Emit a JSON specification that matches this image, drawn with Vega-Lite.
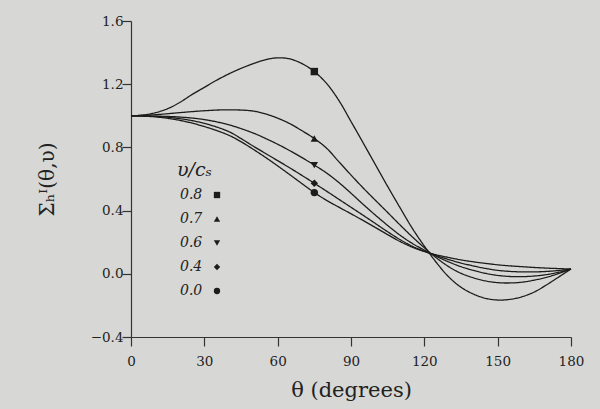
{
  "$schema": "https://vega.github.io/schema/vega-lite/v6.json",
  "width": 440,
  "height": 316,
  "autosize": {"type": "none"},
  "padding": {"left": 131, "top": 21, "right": 29, "bottom": 72},
  "background": "#d7d7d5",
  "config": {"view": {"stroke": null}, "font": "DejaVu Serif"},
  "datasets": {
    "curves": [
      {"v":"0.8","theta":0,"sigma":1.0},{"v":"0.8","theta":5,"sigma":1.005},{"v":"0.8","theta":10,"sigma":1.02},{"v":"0.8","theta":15,"sigma":1.045},{"v":"0.8","theta":20,"sigma":1.085},{"v":"0.8","theta":25,"sigma":1.135},{"v":"0.8","theta":30,"sigma":1.18},{"v":"0.8","theta":35,"sigma":1.225},{"v":"0.8","theta":40,"sigma":1.265},{"v":"0.8","theta":45,"sigma":1.3},{"v":"0.8","theta":50,"sigma":1.33},{"v":"0.8","theta":55,"sigma":1.355},{"v":"0.8","theta":60,"sigma":1.367},{"v":"0.8","theta":65,"sigma":1.36},{"v":"0.8","theta":70,"sigma":1.33},{"v":"0.8","theta":75,"sigma":1.28},{"v":"0.8","theta":80,"sigma":1.205},{"v":"0.8","theta":85,"sigma":1.098},{"v":"0.8","theta":90,"sigma":0.964},{"v":"0.8","theta":95,"sigma":0.828},{"v":"0.8","theta":100,"sigma":0.69},{"v":"0.8","theta":105,"sigma":0.553},{"v":"0.8","theta":110,"sigma":0.42},{"v":"0.8","theta":115,"sigma":0.29},{"v":"0.8","theta":120,"sigma":0.175},{"v":"0.8","theta":125,"sigma":0.07},{"v":"0.8","theta":130,"sigma":-0.02},{"v":"0.8","theta":135,"sigma":-0.085},{"v":"0.8","theta":140,"sigma":-0.128},{"v":"0.8","theta":145,"sigma":-0.155},{"v":"0.8","theta":150,"sigma":-0.166},{"v":"0.8","theta":155,"sigma":-0.162},{"v":"0.8","theta":160,"sigma":-0.145},{"v":"0.8","theta":165,"sigma":-0.115},{"v":"0.8","theta":170,"sigma":-0.07},{"v":"0.8","theta":175,"sigma":-0.02},{"v":"0.8","theta":180,"sigma":0.03},
      {"v":"0.7","theta":0,"sigma":1.0},{"v":"0.7","theta":10,"sigma":1.007},{"v":"0.7","theta":20,"sigma":1.02},{"v":"0.7","theta":30,"sigma":1.032},{"v":"0.7","theta":40,"sigma":1.038},{"v":"0.7","theta":50,"sigma":1.03},{"v":"0.7","theta":55,"sigma":1.012},{"v":"0.7","theta":60,"sigma":0.985},{"v":"0.7","theta":65,"sigma":0.95},{"v":"0.7","theta":70,"sigma":0.905},{"v":"0.7","theta":75,"sigma":0.856},{"v":"0.7","theta":80,"sigma":0.795},{"v":"0.7","theta":85,"sigma":0.71},{"v":"0.7","theta":90,"sigma":0.625},{"v":"0.7","theta":95,"sigma":0.543},{"v":"0.7","theta":100,"sigma":0.465},{"v":"0.7","theta":105,"sigma":0.388},{"v":"0.7","theta":110,"sigma":0.31},{"v":"0.7","theta":115,"sigma":0.235},{"v":"0.7","theta":120,"sigma":0.165},{"v":"0.7","theta":125,"sigma":0.1},{"v":"0.7","theta":130,"sigma":0.045},{"v":"0.7","theta":135,"sigma":0.003},{"v":"0.7","theta":140,"sigma":-0.025},{"v":"0.7","theta":145,"sigma":-0.045},{"v":"0.7","theta":150,"sigma":-0.056},{"v":"0.7","theta":155,"sigma":-0.058},{"v":"0.7","theta":160,"sigma":-0.053},{"v":"0.7","theta":165,"sigma":-0.04},{"v":"0.7","theta":170,"sigma":-0.022},{"v":"0.7","theta":175,"sigma":0.002},{"v":"0.7","theta":180,"sigma":0.03},
      {"v":"0.6","theta":0,"sigma":1.0},{"v":"0.6","theta":10,"sigma":0.998},{"v":"0.6","theta":20,"sigma":0.992},{"v":"0.6","theta":30,"sigma":0.976},{"v":"0.6","theta":40,"sigma":0.943},{"v":"0.6","theta":50,"sigma":0.891},{"v":"0.6","theta":55,"sigma":0.857},{"v":"0.6","theta":60,"sigma":0.82},{"v":"0.6","theta":65,"sigma":0.779},{"v":"0.6","theta":70,"sigma":0.735},{"v":"0.6","theta":75,"sigma":0.688},{"v":"0.6","theta":80,"sigma":0.638},{"v":"0.6","theta":85,"sigma":0.578},{"v":"0.6","theta":90,"sigma":0.51},{"v":"0.6","theta":95,"sigma":0.439},{"v":"0.6","theta":100,"sigma":0.371},{"v":"0.6","theta":105,"sigma":0.306},{"v":"0.6","theta":110,"sigma":0.245},{"v":"0.6","theta":115,"sigma":0.193},{"v":"0.6","theta":120,"sigma":0.15},{"v":"0.6","theta":125,"sigma":0.11},{"v":"0.6","theta":130,"sigma":0.075},{"v":"0.6","theta":135,"sigma":0.045},{"v":"0.6","theta":140,"sigma":0.022},{"v":"0.6","theta":145,"sigma":0.003},{"v":"0.6","theta":150,"sigma":-0.01},{"v":"0.6","theta":155,"sigma":-0.017},{"v":"0.6","theta":160,"sigma":-0.018},{"v":"0.6","theta":165,"sigma":-0.014},{"v":"0.6","theta":170,"sigma":-0.005},{"v":"0.6","theta":175,"sigma":0.01},{"v":"0.6","theta":180,"sigma":0.03},
      {"v":"0.4","theta":0,"sigma":1.0},{"v":"0.4","theta":10,"sigma":0.996},{"v":"0.4","theta":20,"sigma":0.982},{"v":"0.4","theta":30,"sigma":0.952},{"v":"0.4","theta":40,"sigma":0.9},{"v":"0.4","theta":45,"sigma":0.856},{"v":"0.4","theta":50,"sigma":0.808},{"v":"0.4","theta":55,"sigma":0.762},{"v":"0.4","theta":60,"sigma":0.716},{"v":"0.4","theta":65,"sigma":0.67},{"v":"0.4","theta":70,"sigma":0.622},{"v":"0.4","theta":75,"sigma":0.573},{"v":"0.4","theta":80,"sigma":0.523},{"v":"0.4","theta":85,"sigma":0.472},{"v":"0.4","theta":90,"sigma":0.421},{"v":"0.4","theta":95,"sigma":0.37},{"v":"0.4","theta":100,"sigma":0.318},{"v":"0.4","theta":105,"sigma":0.266},{"v":"0.4","theta":110,"sigma":0.217},{"v":"0.4","theta":115,"sigma":0.175},{"v":"0.4","theta":120,"sigma":0.143},{"v":"0.4","theta":125,"sigma":0.115},{"v":"0.4","theta":130,"sigma":0.09},{"v":"0.4","theta":135,"sigma":0.068},{"v":"0.4","theta":140,"sigma":0.05},{"v":"0.4","theta":145,"sigma":0.034},{"v":"0.4","theta":150,"sigma":0.022},{"v":"0.4","theta":155,"sigma":0.015},{"v":"0.4","theta":160,"sigma":0.012},{"v":"0.4","theta":165,"sigma":0.012},{"v":"0.4","theta":170,"sigma":0.015},{"v":"0.4","theta":175,"sigma":0.021},{"v":"0.4","theta":180,"sigma":0.03},
      {"v":"0.0","theta":0,"sigma":1.0},{"v":"0.0","theta":10,"sigma":0.993},{"v":"0.0","theta":20,"sigma":0.971},{"v":"0.0","theta":30,"sigma":0.932},{"v":"0.0","theta":40,"sigma":0.877},{"v":"0.0","theta":45,"sigma":0.836},{"v":"0.0","theta":50,"sigma":0.788},{"v":"0.0","theta":55,"sigma":0.737},{"v":"0.0","theta":60,"sigma":0.683},{"v":"0.0","theta":65,"sigma":0.627},{"v":"0.0","theta":70,"sigma":0.57},{"v":"0.0","theta":75,"sigma":0.514},{"v":"0.0","theta":80,"sigma":0.465},{"v":"0.0","theta":85,"sigma":0.422},{"v":"0.0","theta":90,"sigma":0.38},{"v":"0.0","theta":95,"sigma":0.337},{"v":"0.0","theta":100,"sigma":0.293},{"v":"0.0","theta":105,"sigma":0.248},{"v":"0.0","theta":110,"sigma":0.205},{"v":"0.0","theta":115,"sigma":0.169},{"v":"0.0","theta":120,"sigma":0.141},{"v":"0.0","theta":125,"sigma":0.12},{"v":"0.0","theta":130,"sigma":0.103},{"v":"0.0","theta":135,"sigma":0.088},{"v":"0.0","theta":140,"sigma":0.076},{"v":"0.0","theta":145,"sigma":0.066},{"v":"0.0","theta":150,"sigma":0.057},{"v":"0.0","theta":155,"sigma":0.05},{"v":"0.0","theta":160,"sigma":0.045},{"v":"0.0","theta":165,"sigma":0.04},{"v":"0.0","theta":170,"sigma":0.036},{"v":"0.0","theta":175,"sigma":0.033},{"v":"0.0","theta":180,"sigma":0.03}
    ],
    "markers": [
      {"v":"0.8","theta":75,"sigma":1.28},
      {"v":"0.7","theta":75,"sigma":0.856},
      {"v":"0.6","theta":75,"sigma":0.688},
      {"v":"0.4","theta":75,"sigma":0.573},
      {"v":"0.0","theta":75,"sigma":0.514}
    ]
  },
  "layer": [
    {
      "data": {"name": "curves"},
      "mark": {"type": "line", "interpolate": "catmull-rom", "color": "#1c1c1c", "strokeWidth": 1.3},
      "encoding": {
        "x": {
          "field": "theta", "type": "quantitative",
          "scale": {"domain": [0, 180], "nice": false},
          "axis": {
            "title": "θ (degrees)",
            "values": [0, 15, 30, 45, 60, 75, 90, 105, 120, 135, 150, 165, 180],
            "labelExpr": "datum.value % 30 === 0 ? datum.label : ''",
            "tickSize": {"condition": {"test": "datum.value % 30 === 0", "value": 9}, "value": 5},
            "grid": false,
            "labelFont": "DejaVu Serif", "labelFontSize": 13.5, "labelColor": "#222", "labelPadding": 8,
            "labelFlush": false, "labelOverlap": false,
            "titleFont": "DejaVu Serif", "titleFontSize": 21, "titleFontWeight": "normal", "titleColor": "#222", "titlePadding": 12,
            "domainColor": "#333", "tickColor": "#333", "domainWidth": 1.2, "tickWidth": 1.2
          }
        },
        "y": {
          "field": "sigma", "type": "quantitative",
          "scale": {"domain": [-0.4, 1.6], "nice": false},
          "axis": {
            "title": "Σₕᴵ(θ,υ)",
            "values": [-0.4, -0.2, 0, 0.2, 0.4, 0.6, 0.8, 1, 1.2, 1.4, 1.6],
            "labelExpr": "abs(round(datum.value * 10)) % 4 === 0 ? format(datum.value, '.1f') : ''",
            "tickSize": {"condition": {"test": "abs(round(datum.value * 10)) % 4 === 0", "value": 9}, "value": 5},
            "grid": false,
            "labelFont": "DejaVu Serif", "labelFontSize": 13.5, "labelColor": "#222", "labelPadding": -1,
            "labelFlush": false, "labelOverlap": false,
            "titleFont": "DejaVu Serif", "titleFontSize": 20, "titleFontWeight": "normal", "titleColor": "#222", "titlePadding": 33,
            "domainColor": "#333", "tickColor": "#333", "domainWidth": 1.2, "tickWidth": 1.2
          }
        },
        "strokeDash": {
          "field": "v", "type": "nominal",
          "scale": {"domain": ["0.8", "0.7", "0.6", "0.4", "0.0"], "range": [[1, 0], [1, 0], [1, 0], [1, 0], [1, 0]]},
          "legend": {
            "title": "υ/cₛ", "orient": "none", "legendX": 46, "legendY": 140, "padding": 0,
            "titleFont": "DejaVu Serif", "titleFontStyle": "italic", "titleFontWeight": "normal", "titleFontSize": 19, "titleColor": "#222", "titlePadding": 8,
            "labelFont": "DejaVu Serif", "labelFontStyle": "italic", "labelFontSize": 14, "labelColor": "#222", "labelOffset": -11,
            "symbolOpacity": 0, "symbolSize": 1, "symbolStrokeWidth": 0, "symbolOffset": 0, "rowPadding": 10
          }
        }
      }
    },
    {
      "data": {"name": "markers"},
      "mark": {"type": "point", "filled": true, "color": "#1c1c1c", "size": 55, "opacity": 1},
      "encoding": {
        "x": {"field": "theta", "type": "quantitative"},
        "y": {"field": "sigma", "type": "quantitative"},
        "shape": {
          "field": "v", "type": "nominal", "sort": "descending",
          "scale": {"range": ["square", "triangle-up", "triangle-down", "diamond", "circle"]},
          "legend": {
            "title": null, "orient": "none", "legendX": 79, "legendY": 167, "padding": 0,
            "labelExpr": "''", "labelFontSize": 14,
            "symbolSize": 40, "symbolFillColor": "#1c1c1c", "symbolStrokeColor": "#1c1c1c", "symbolStrokeWidth": 0, "symbolOffset": 0, "rowPadding": 10
          }
        }
      }
    }
  ]
}
